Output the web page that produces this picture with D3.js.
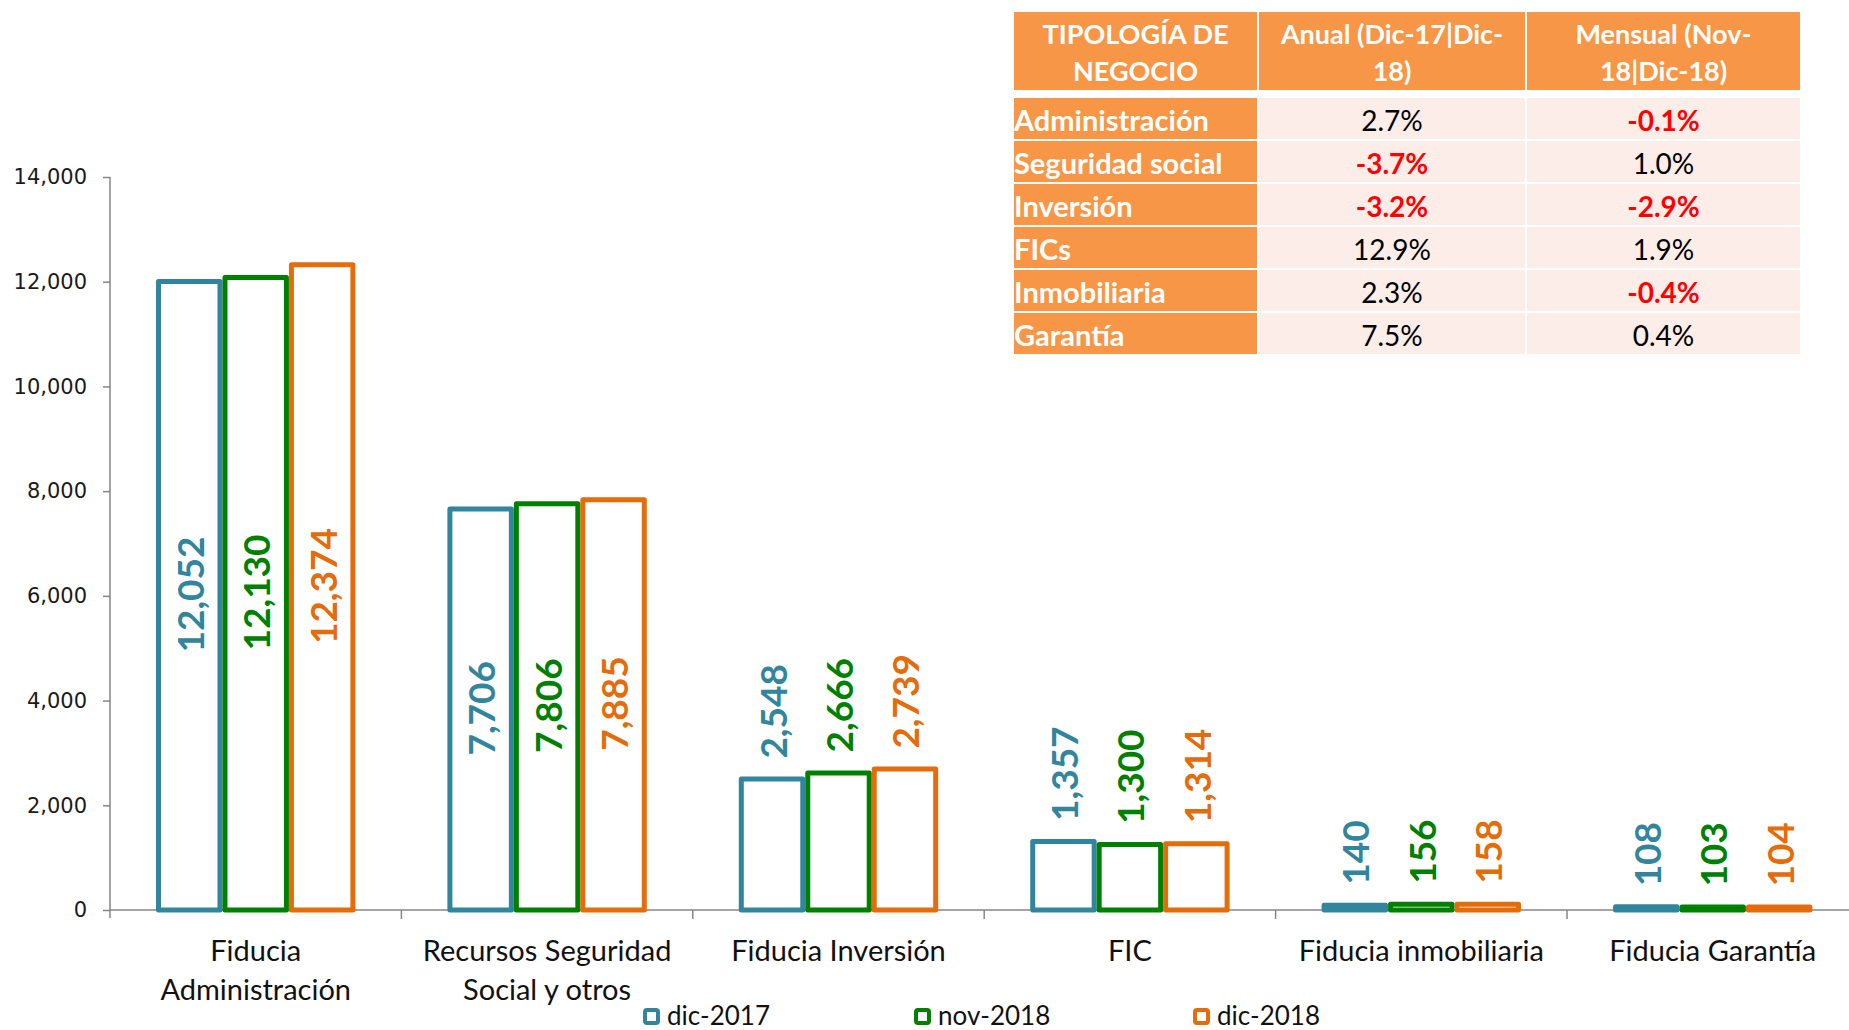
<!DOCTYPE html>
<html>
<head>
<meta charset="utf-8">
<script src="https://cdnjs.cloudflare.com/ajax/libs/d3/7.8.5/d3.min.js"></script>
<style>
  body { margin: 0; background: #fff; }
  svg { display: block; }
</style>
</head>
<body>
<svg id="chart"></svg>
<script>
// chart data
var categories = ["Fiducia\nAdministración", "Recursos Seguridad\nSocial y otros", "Fiducia Inversión",
                  "FIC", "Fiducia inmobiliaria", "Fiducia Garantía"];
var seriesNames = ["dic-2017", "nov-2018", "dic-2018"];
var dic2017 = [12052, 7706, 2548, 1357, 140, 108];
var nov2018 = [12130, 7806, 2666, 1300, 156, 103];
var dic2018 = [12374, 7885, 2739, 1314, 158, 104];
var yTicks = [0, 2000, 4000, 6000, 8000, 10000, 12000, 14000];

// table data
var tableHeader = [["TIPOLOGÍA DE", "NEGOCIO"], ["Anual (Dic-17|Dic-", "18)"], ["Mensual (Nov-", "18|Dic-18)"]];
var tableRows = ["Administración", "Seguridad social", "Inversión", "FICs", "Inmobiliaria", "Garantía"];
var anual = ["2.7%", "-3.7%", "-3.2%", "12.9%", "2.3%", "7.5%"];
var mensual = ["-0.1%", "1.0%", "-2.9%", "1.9%", "-0.4%", "0.4%"];

var colors = ["#31859C", "#008000", "#E46C0A"];
var W = 1849, H = 1030;
var svg = d3.select("#chart").attr("width", W).attr("height", H);

var series = [dic2017, nov2018, dic2018];
var axisX = 110, step = 291.4;

var y = d3.scaleLinear().domain([0, 14000]).range([910, 177]);
var x0 = d3.scaleBand().domain(categories).range([axisX, axisX + step * categories.length]);
var x1 = d3.scaleBand().domain(seriesNames).range([46, x0.bandwidth() - 46]);

// y axis
var yAxis = svg.append("g")
    .attr("transform", "translate(" + axisX + ",0)")
    .call(d3.axisLeft(y).tickValues(yTicks).tickSize(7).tickPadding(16)
        .tickFormat(d3.format(",")));
yAxis.select(".domain").attr("stroke", "#868686").attr("stroke-width", 1.5)
    .attr("d", "M0," + y(14000) + "V" + (y(0) + 8));
yAxis.selectAll(".tick line").attr("stroke", "#868686").attr("stroke-width", 1.5);
yAxis.selectAll(".tick text").attr("font-family", "DejaVu Sans").attr("font-size", 21).attr("fill", "#1a1a1a");

// x axis
var xAxis = svg.append("g")
    .attr("transform", "translate(0," + y(0) + ")");
xAxis.append("line").attr("x1", axisX).attr("x2", W).attr("stroke", "#868686").attr("stroke-width", 1.5);
xAxis.selectAll("line.tk").data(categories).enter().append("line")
    .attr("class", "tk")
    .attr("x1", function(d) { return x0(d) + x0.bandwidth(); })
    .attr("x2", function(d) { return x0(d) + x0.bandwidth(); })
    .attr("y1", 0).attr("y2", 9)
    .attr("stroke", "#868686").attr("stroke-width", 1.5);

// category labels
categories.forEach(function(c) {
    var lines = c.split("\n");
    var t = svg.append("text")
        .attr("text-anchor", "middle")
        .attr("font-family", "Lato").attr("font-size", 29).attr("fill", "#111");
    lines.forEach(function(l, i) {
        t.append("tspan").attr("x", x0(c) + x0.bandwidth() / 2).attr("y", 961 + i * 39).text(l);
    });
});

// bars
var sw = 5;
series.forEach(function(vals, si) {
    var g = svg.append("g");
    g.selectAll("rect").data(vals).enter().append("rect")
        .attr("x", function(d, i) { return x0(categories[i]) + x1(seriesNames[si]) + sw / 2; })
        .attr("y", function(d) { return y(d) + sw / 2; })
        .attr("width", x1.bandwidth() - sw)
        .attr("height", function(d) { return Math.max(0.5, y(0) - y(d) - sw / 2); })
        .attr("fill", "#fff")
        .attr("stroke", colors[si])
        .attr("stroke-width", sw)
        .attr("stroke-linejoin", "round");

    g.selectAll("text").data(vals).enter().append("text")
        .attr("transform", function(d, i) {
            var cx = x0(categories[i]) + x1(seriesNames[si]) + x1.bandwidth() / 2;
            var cy = i < 2 ? (y(d) + y(0)) / 2 : y(d) - 18;
            return "translate(" + cx + "," + cy + ") rotate(-90)";
        })
        .attr("text-anchor", function(d, i) { return i < 2 ? "middle" : "start"; })
        .attr("dominant-baseline", "central")
        .attr("font-family", "Lato")
        .attr("font-size", 37)
        .attr("font-weight", "bold")
        .attr("fill", colors[si])
        .text(function(d) { return d3.format(",")(d); });
});

// legend
var legendX = [643, 914, 1193];
seriesNames.forEach(function(n, i) {
    svg.append("rect")
        .attr("x", legendX[i] + 2).attr("y", 1008 + 2)
        .attr("width", 13).attr("height", 13).attr("rx", 2)
        .attr("fill", "#fff").attr("stroke", colors[i]).attr("stroke-width", 4);
    svg.append("text")
        .attr("x", legendX[i] + 24).attr("y", 1025)
        .attr("font-family", "Lato").attr("font-size", 26).attr("fill", "#111")
        .text(n);
});

// table
var colX = [1014, 1259, 1527, 1802];
var headTop = 12, headBottom = 90;
var rowTop = 98, rowH = 43;
var table = svg.append("g");

tableHeader.forEach(function(lines, ci) {
    table.append("rect")
        .attr("x", colX[ci]).attr("y", headTop)
        .attr("width", colX[ci + 1] - colX[ci] - 2).attr("height", headBottom - headTop)
        .attr("fill", "#F79646");
    var t = table.append("text")
        .attr("text-anchor", "middle")
        .attr("font-family", "Lato").attr("font-weight", "bold").attr("font-size", 27).attr("fill", "#fff");
    lines.forEach(function(l, li) {
        t.append("tspan").attr("x", (colX[ci] + colX[ci + 1] - 2) / 2).attr("y", 44 + li * 37).text(l);
    });
});

tableRows.forEach(function(r, ri) {
    var top = rowTop + ri * rowH;
    var cells = [r, anual[ri], mensual[ri]];
    cells.forEach(function(v, ci) {
        table.append("rect")
            .attr("x", colX[ci]).attr("y", top)
            .attr("width", colX[ci + 1] - colX[ci] - 2).attr("height", rowH - 2)
            .attr("fill", ci === 0 ? "#F79646" : "#FCEDE8");
        var neg = ci > 0 && v.charAt(0) === "-";
        table.append("text")
            .attr("x", ci === 0 ? colX[0] : (colX[ci] + colX[ci + 1] - 2) / 2)
            .attr("y", top + (rowH - 2) / 2 + 1)
            .attr("text-anchor", ci === 0 ? "start" : "middle")
            .attr("dominant-baseline", "central")
            .attr("font-family", "Lato")
            .attr("font-weight", ci === 0 || neg ? "bold" : "normal")
            .attr("font-size", ci === 0 ? 29 : 28)
            .attr("fill", ci === 0 ? "#fff" : (neg ? "#FF0000" : "#000"))
            .text(v);
    });
});
</script>
</body>
</html>
